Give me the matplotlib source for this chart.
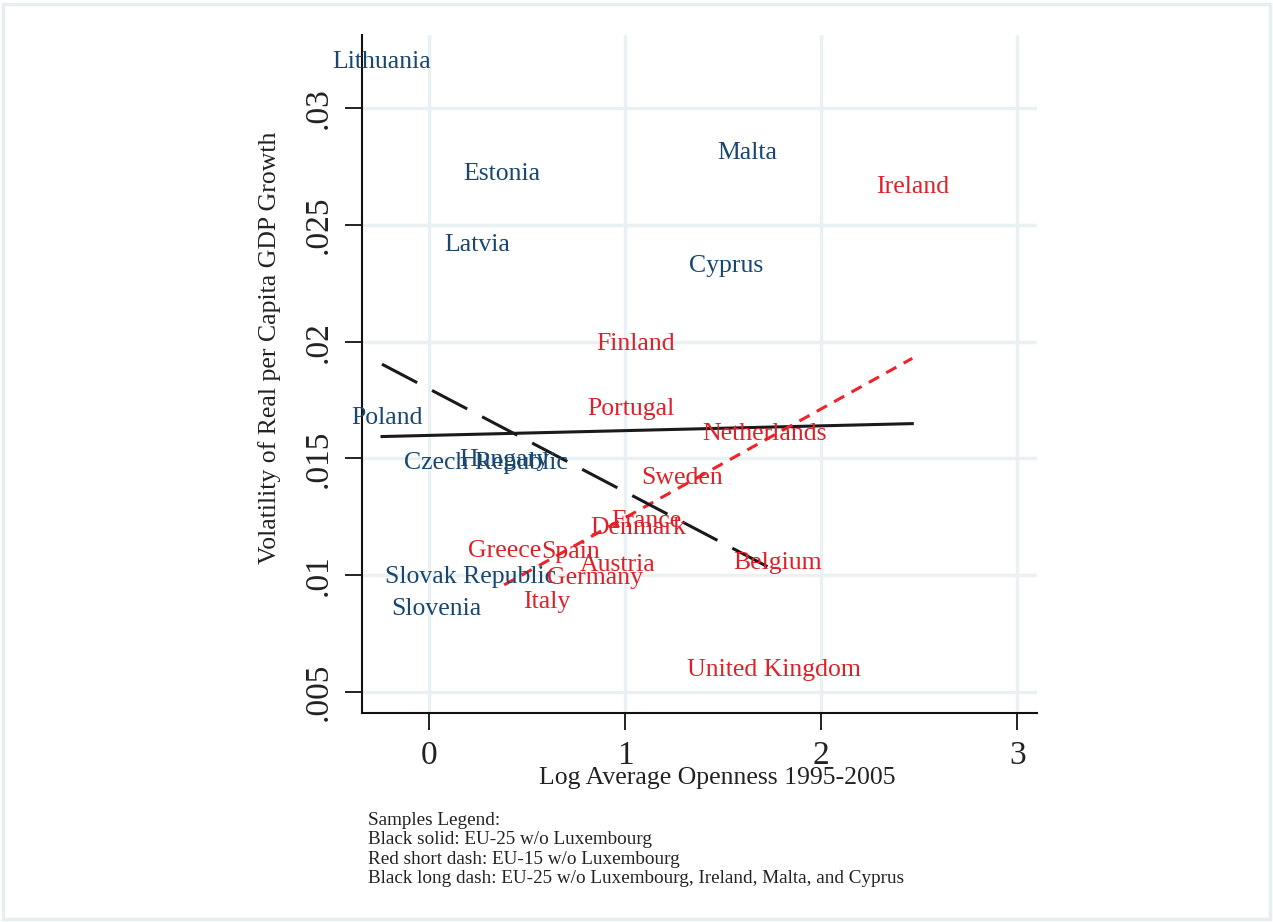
import numpy as np
import matplotlib
matplotlib.use("Agg")
import matplotlib.pyplot as plt
from matplotlib.patches import Rectangle

# ---- data ----
new_members = ["Lithuania", "Estonia", "Latvia", "Malta", "Cyprus", "Poland",
               "Czech Republic", "Hungary", "Slovak Republic", "Slovenia"]
new_x = [-0.240, 0.372, 0.245, 1.622, 1.515, -0.214, 0.291, 0.383, 0.214, 0.036]
new_y = [0.0321, 0.0273, 0.02426, 0.0282, 0.02336, 0.01682, 0.01489, 0.01502,
         0.01001, 0.00864]

old_members = ["Ireland", "Finland", "Portugal", "Netherlands", "Sweden", "France",
               "Denmark", "Greece", "Spain", "Austria", "Belgium", "Germany",
               "Italy", "United Kingdom"]
old_x = [2.464, 1.051, 1.031, 1.709, 1.291, 1.107, 1.066, 0.383, 0.720, 0.959,
         1.776, 0.847, 0.602, 1.760]
old_y = [0.02675, 0.0200, 0.01724, 0.01617, 0.01425, 0.01241, 0.01211, 0.01116,
         0.01108, 0.01056, 0.01065, 0.00997, 0.00898, 0.00603]

excluded_long = ["Ireland", "Malta", "Cyprus"]

x_ticks = [0, 1, 2, 3]
y_ticks = [0.005, 0.01, 0.015, 0.02, 0.025, 0.03]
y_ticklabels = [".005", ".01", ".015", ".02", ".025", ".03"]

note_lines = ["Samples Legend:",
              "Black solid: EU-25 w/o Luxembourg",
              "Red short dash: EU-15 w/o Luxembourg",
              "Black long dash: EU-25 w/o Luxembourg, Ireland, Malta, and Cyprus"]

# ---- style ----
SERIF = ["Liberation Serif", "DejaVu Serif"]
plt.rcParams["font.family"] = SERIF
BLUE = "#1a476f"
RED_TXT = "#dc2228"
RED_LINE = "#f0222a"
GRID = "#e9f1f3"

fig = plt.figure(figsize=(12.73, 9.22), dpi=100)
fig.patch.set_facecolor("white")
fig.patches.append(Rectangle((3 / 1273, 3 / 922), 1 - 6 / 1273, 1 - 7 / 922,
                             transform=fig.transFigure, fill=False,
                             edgecolor="#e6eef2", linewidth=2.5, zorder=0))

ax = fig.add_axes([362 / 1273, 1 - 713 / 922, (1037 - 362) / 1273, (713 - 35) / 922])
ax.set_xlim(-0.342, 3.10)
ax.set_ylim(0.0041, 0.03313)

for s in ["top", "right"]:
    ax.spines[s].set_visible(False)
for s in ["left", "bottom"]:
    ax.spines[s].set_linewidth(1.5)
    ax.spines[s].set_color("#111111")

ax.set_xticks(x_ticks)
ax.set_xticklabels([str(t) for t in x_ticks])
ax.set_yticks(y_ticks)
ax.set_yticklabels(y_ticklabels, rotation=90, va="center")
ax.tick_params(axis="both", length=12, width=1.3, color="#111111",
               labelsize=24, pad=8, labelcolor="#222222")
ax.grid(True, color=GRID, linewidth=2.5)
ax.set_axisbelow(True)

# ---- fitted lines ----
all_names = new_members + old_members
all_x = np.array(new_x + old_x)
all_y = np.array(new_y + old_y)

def fit_line(xs, ys, **kw):
    xs = np.asarray(xs); ys = np.asarray(ys)
    b, a = np.polyfit(xs, ys, 1)
    xx = np.array([xs.min(), xs.max()])
    ax.plot(xx, a + b * xx, **kw)

fit_line(all_x, all_y, color="#1a1a1a", linewidth=2.2, zorder=3)
fit_line(old_x, old_y, color=RED_LINE, linewidth=2.2, dashes=(3.8, 2.7), zorder=3)
mask = np.array([n not in excluded_long for n in all_names])
fit_line(all_x[mask], all_y[mask], color="#1a1a1a", linewidth=2.2,
         dashes=(13, 5.5), zorder=3)

# ---- labels as markers ----
for n, x, y in zip(new_members, new_x, new_y):
    ax.text(x, y, n, color=BLUE, fontsize=18.5, ha="center", va="center_baseline",
            zorder=4)
for n, x, y in zip(old_members, old_x, old_y):
    ax.text(x, y, n, color=RED_TXT, fontsize=18.5, ha="center", va="center_baseline",
            zorder=4)

# ---- titles ----
fig.text(717 / 1273, 1 - 778 / 922, "Log Average Openness 1995-2005",
         fontsize=18.5, ha="center", va="center", color="#222222")
fig.text(270 / 1273, 1 - 348 / 922, "Volatility of Real per Capita GDP Growth",
         fontsize=18.5, ha="center", va="center", rotation=90, color="#222222")

for i, line in enumerate(note_lines):
    fig.text(368 / 1273, 1 - (820 + 19.5 * i) / 922, line, fontsize=13.8,
             ha="left", va="center", color="#222222")

fig.savefig("out.png", dpi=100, facecolor="white")
